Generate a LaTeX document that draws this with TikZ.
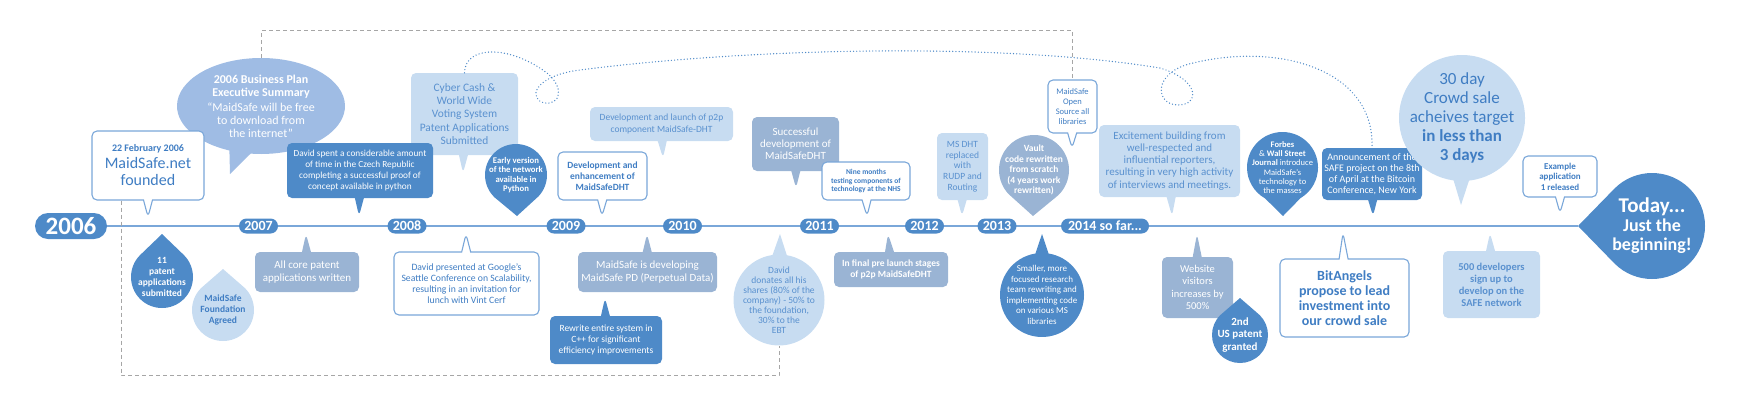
\documentclass[tikz,border=0pt]{standalone}
\usepackage{fontspec}
\setmainfont{Carlito}
\usepackage{xcolor}
\usepackage{tikz}
\usetikzlibrary{shapes.callouts,backgrounds}
\definecolor{cdark}{HTML}{4E8AC8}
\definecolor{cgray}{HTML}{9AB4D4}
\definecolor{clight}{HTML}{C7DCF1}
\definecolor{cmid}{HTML}{9FBCE4}
\definecolor{ctext}{HTML}{3F7DC3}
\definecolor{cltext}{HTML}{5A91CF}
\definecolor{cline}{HTML}{7AA7D9}

\begin{document}
\begin{tikzpicture}[x=1pt, y=-1pt,
  fs/.style 2 args={font=\fontsize{#1}{#2}\selectfont},
  fb/.style 2 args={font=\bfseries\fontsize{#1}{#2}\selectfont},
  bubble/.style={rectangle callout, rounded corners=5pt, align=center, inner sep=2pt, callout pointer width=9pt},
  wbox/.style={bubble, draw=cline, line width=1.1pt, fill=white, text=ctext},
  lbox/.style={bubble, fill=clight, text=cltext},
  gbox/.style={bubble, fill=cgray, text=white},
  dbox/.style={bubble, fill=cdark, text=white},
  drop/.style={ellipse callout, callout pointer arc=90, align=center, inner sep=-8pt},
  year/.style={rectangle, rounded corners=7.5pt, fill=cdark, text=white, fb={14}{14}, minimum height=15, minimum width=39, inner sep=0pt},
  gdash/.style={draw=gray!70, line width=0.9pt, dash pattern=on 4pt off 3pt},
  dots/.style={draw=cdark, line width=1.4pt, line cap=round, dash pattern=on 0pt off 3.2pt}]
\useasboundingbox (0,0) rectangle (1740,400);
%years on the line
\node[year, minimum width=72, minimum height=26, rounded corners=13pt, fb={25}{25}] (y06) at (71,226) {2006};
\node[year] (y07) at (258.5,226) {2007};
\node[year] (y08) at (407,226) {2008};
\node[year] (y09) at (566,226) {2009};
\node[year] (y10) at (682.5,226) {2010};
\node[year] (y11) at (819.5,226) {2011};
\node[year] (y12) at (924.5,226) {2012};
\node[year] (y13) at (997,226) {2013};
\node[year, minimum width=88] (y14) at (1105,226) {2014 so far...};
%above the line
\node[ellipse callout, fill=cmid, text=white, align=center, inner sep=-4pt, minimum width=168, minimum height=96, fs={12}{13}, callout absolute pointer={(230,174)}] (plan) at (261,106) {\textbf{2006 Business Plan}\\\textbf{Executive Summary}\\[2pt]“MaidSafe will be free\\to download from\\the internet”};
\node[wbox, minimum width=112, minimum height=69, fs={16}{17}, callout absolute pointer={(148,217)}] (found) at (148,165.5) {{\bfseries\fontsize{10}{12}\selectfont 22 February 2006}\\MaidSafe.net\\founded};
\node[lbox, minimum width=107, minimum height=82, fs={11.4}{13.3}, callout absolute pointer={(463,173)}] (cyber) at (464.5,114) {Cyber Cash \&\\World Wide\\Voting System\\Patent Applications\\Submitted};
\node[dbox, minimum width=146, minimum height=55, fs={9.3}{10.8}, callout absolute pointer={(359,216)}] (czech) at (360,170.5) {David spent a considerable amount\\of time in the Czech Republic\\completing a successful proof of\\concept available in python};
\node[drop, fill=cdark, text=white, minimum size=62, fb={8.7}{9.5}, callout absolute pointer={(517,216)}] (early) at (516,175) {Early version\\of the network\\available in\\Python};
\node[wbox, minimum width=89, minimum height=48, fb={9.5}{10.8}, callout absolute pointer={(602,216)}] (enh) at (602.5,176) {Development and\\enhancement of\\MaidSafeDHT};
\node[lbox, minimum width=143, minimum height=34, fs={9.5}{11.3}, callout absolute pointer={(663,158)}] (p2p) at (661.5,124) {Development and launch of p2p\\component MaidSafe-DHT};
\node[gbox, minimum width=87, minimum height=54, fs={11}{12.2}, callout absolute pointer={(796,188)}] (dht) at (795.5,144) {Successful\\development of\\MaidSafeDHT};
\node[wbox, minimum width=88, minimum height=38, fb={7.5}{8.3}, callout absolute pointer={(867,216)}] (nhs) at (866,181) {Nine months\\testing components of\\technology at the NHS};
\node[lbox, minimum width=51, minimum height=67, fs={9.5}{10.7}, callout absolute pointer={(962,216)}] (rudp) at (962.5,166.5) {MS DHT\\replaced\\with\\RUDP and\\Routing};
\node[drop, fill=cgray, text=white, minimum size=70, fb={9.5}{10.5}, callout absolute pointer={(1033,216)}] (vault) at (1034,170) {Vault\\code rewritten\\from scratch\\(4 years work\\rewritten)};
\node[wbox, minimum width=49, minimum height=53, fs={8.5}{10}, callout absolute pointer={(1072,148)}] (open) at (1072.5,106.5) {MaidSafe\\Open\\Source all\\libraries};
\node[lbox, minimum width=141, minimum height=72, fs={11}{12.1}, callout absolute pointer={(1172,216)}] (press) at (1169.5,161) {Excitement building from\\well-respected and\\influential reporters,\\resulting in very high activity\\of interviews and meetings.};
\node[drop, callout pointer arc=60, fill=cdark, text=white, minimum size=71, fs={8.5}{9.2}, callout absolute pointer={(1283,216)}] (forbes) at (1282.5,167.5) {\textbf{Forbes}\\\& \textbf{Wall Street}\\\textbf{Journal} introduce\\MaidSafe’s\\technology to\\the masses};
\node[dbox, minimum width=100, minimum height=52, fs={10}{11.1}, callout absolute pointer={(1373,216)}] (bitcoin) at (1372,174) {Announcement of the\\SAFE project on the 8th\\of April at the Bitcoin\\Conference, New York};
\node[drop, callout pointer arc=14, fill=clight, text=ctext, minimum size=126, fs={17}{19.2}, callout absolute pointer={(1461,205)}] (crowd) at (1462,118) {30 day\\Crowd sale\\acheives target\\\textbf{in less than}\\\textbf{3 days}};
\node[wbox, minimum width=74, minimum height=41, fb={9}{10.5}, callout absolute pointer={(1560,213)}] (app) at (1560,176.5) {Example\\application\\1 released};
\node[drop, fill=cdark, text=white, minimum size=106, fb={18}{19}, callout absolute pointer={(1578,226)}] (today) at (1652,226) {{\fontsize{21}{21}\selectfont Today...}\\Just the\\beginning!};
%below the line
\node[drop, fill=cdark, text=white, minimum size=62, fb={9.5}{11}, callout absolute pointer={(162,234)}] (pat11) at (162,277) {11\\patent\\applications\\submitted};
\node[drop, fill=clight, text=ctext, minimum size=62, fb={9.5}{11}, callout absolute pointer={(223,269)}] (fdn) at (223,310) {MaidSafe\\Foundation\\Agreed};
\node[gbox, minimum width=104, minimum height=40, fs={11}{12.7}, callout absolute pointer={(306,234)}] (core) at (307,272) {All core patent\\applications written};
\node[wbox, minimum width=145, minimum height=63, fs={9.7}{11.1}, callout absolute pointer={(466,234)}] (google) at (466.5,283.5) {David presented at Google’s\\Seattle Conference on Scalability,\\resulting in an invitation for\\lunch with Vint Cerf};
\node[gbox, minimum width=139, minimum height=40, fs={11}{12.7}, callout absolute pointer={(647,234)}] (pd) at (647.5,272) {MaidSafe is developing\\MaidSafe PD (Perpetual Data)};
\node[dbox, minimum width=112, minimum height=48, fs={9.5}{10.7}, callout absolute pointer={(605,298)}] (cpp) at (606,340) {Rewrite entire system in\\C++ for significant\\efficiency improvements};
\node[drop, callout pointer arc=18, fill=clight, text=cltext, minimum size=91, fs={9.5}{10}, callout absolute pointer={(780,234)}] (donate) at (779,300) {David\\donates all his\\shares (80\% of the\\company) - 50\% to\\the foundation,\\30\% to the\\EBT};
\node[gbox, minimum width=114, minimum height=35, fb={9.5}{10.7}, callout absolute pointer={(888,234)}] (pre) at (891,269.5) {In final pre launch stages\\of p2p MaidSafeDHT};
\node[drop, callout pointer arc=18, fill=cdark, text=white, minimum size=84, fs={9}{10.5}, callout absolute pointer={(1042,234)}] (team) at (1042,295) {Smaller, more\\focused research\\team rewriting and\\implementing code\\on various MS\\libraries};
\node[gbox, minimum width=71, minimum height=61, fs={10.5}{12.3}, callout absolute pointer={(1197,234)}] (web) at (1197.5,287.5) {Website\\visitors\\increases by\\500\%};
\node[drop, fill=cdark, text=white, minimum size=56, fb={11}{12.3}, callout absolute pointer={(1240,298)}] (pat2) at (1240,335) {2nd\\US patent\\granted};
\node[wbox, minimum width=129, minimum height=78, fb={14}{15}, callout absolute pointer={(1343,233)}] (angels) at (1344.5,298) {BitAngels\\propose to lead\\investment into\\our crowd sale};
\node[lbox, minimum width=97, minimum height=67, fb={10.5}{12}, callout absolute pointer={(1490,233)}] (devs) at (1491.5,284.5) {500 developers\\sign up to\\develop on the\\SAFE network};
\begin{scope}[on background layer]
\draw[cline, line width=2pt] (y06.east) -- (today.pointer);
\end{scope}
\draw[gdash] (plan.north) -- ++(0,-27) -| (open.north);
\draw[gdash] ([xshift=-27pt]found.south) -- ++(0,175) -| (donate.south);
\draw[dots] (cyber.north) .. controls (465,45) and (510,45) .. (547,73)
  .. controls (565,88) and (560,105) .. (545,103)
  .. controls (528,100) and (532,76) .. (580,70)
  .. controls (750,48) and (1000,42) .. (1160,68)
  .. controls (1200,80) and (1200,105) .. (1178,105)
  .. controls (1155,105) and (1152,72) .. (1193,63)
  .. controls (1280,42) and (1375,70) .. (bitcoin.north);
\end{tikzpicture}
\end{document}
